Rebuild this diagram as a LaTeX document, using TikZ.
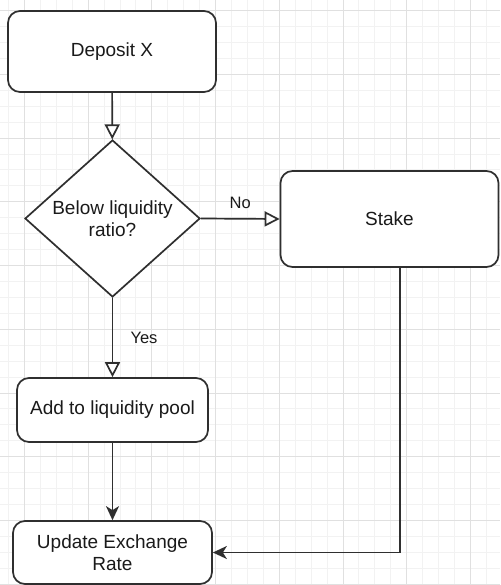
\documentclass[tikz,border=0pt]{standalone}
\usepackage{fontspec}
\setmainfont{Liberation Sans}
\usetikzlibrary{arrows.meta,shapes.geometric}
\definecolor{minorc}{HTML}{F2F2F2}
\definecolor{majorc}{HTML}{E0E0E0}
\definecolor{linec}{HTML}{2F2F2F}
\definecolor{textc}{HTML}{1A1A1A}
\begin{document}
\begin{tikzpicture}[x=1pt,y=-1pt,
  minorgrid/.style={draw=minorc, line width=1pt},
  majorgrid/.style={draw=majorc, line width=1pt},
  box/.style={draw=linec, line width=1.7pt, rounded corners=12pt, fill=white,
    text=textc, font=\fontsize{19}{22}\selectfont, align=center, inner sep=0pt},
  decision/.style={diamond, draw=linec, line width=1.7pt, fill=white,
    text=textc, font=\fontsize{19}{22}\selectfont, align=center, inner sep=0pt},
  openarrow/.style={draw=linec, line width=1.7pt,
    -{Triangle[length=15pt,width=15pt,fill=white]}},
  filledarrow/.style={draw=linec, line width=1.7pt,
    -{Stealth[length=14pt,width=13pt,inset=4pt]}},
  lbl/.style={text=textc, font=\fontsize{16.5}{19}\selectfont, inner sep=0pt}
]
\useasboundingbox (0,0) rectangle (500,585);
\clip (0,0) rectangle (500,585);
\fill[white] (0,0) rectangle (500,585);
% grid
\foreach \i in {0,...,31} \draw[minorgrid] ({8.49+15.93*\i},0) -- ++(0,585);
\foreach \j in {0,...,36} \draw[minorgrid] (0,{10.7+15.93*\j}) -- ++(500,0);
\foreach \i in {1,5,...,29} \draw[majorgrid] ({8.49+15.93*\i},0) -- ++(0,585);
\foreach \j in {0,4,...,36} \draw[majorgrid] (0,{10.7+15.93*\j}) -- ++(500,0);
% nodes
\node[box, minimum width=208pt, minimum height=81pt] (dep) at (112,51.5) {Deposit X};
\node[decision, minimum width=175pt, minimum height=157pt] (dec) at (112.5,218.5) {Below liquidity\\ratio?};
\node[box, minimum width=218pt, minimum height=96pt] (stake) at (389.5,219) {Stake};
\node[box, minimum width=191pt, minimum height=64pt] (add) at (112.5,410) {Add to liquidity pool};
\node[box, minimum width=199pt, minimum height=63pt] (upd) at (112.5,552.5) {Update Exchange\\Rate};
\coordinate (s1) at (400,0);
% connectors
\draw[openarrow] (dep) -- (dec);
\draw[openarrow] (dec.east) -- node[lbl, midway, yshift=16pt] {No} (stake.west);
\draw[openarrow] (dec.south) -- node[lbl, midway, xshift=31.5pt] {Yes} (add.north);
\draw[filledarrow] (add) -- (upd);
\draw[filledarrow] (s1 |- stake.south) |- (upd.east);
\end{tikzpicture}
\end{document}
